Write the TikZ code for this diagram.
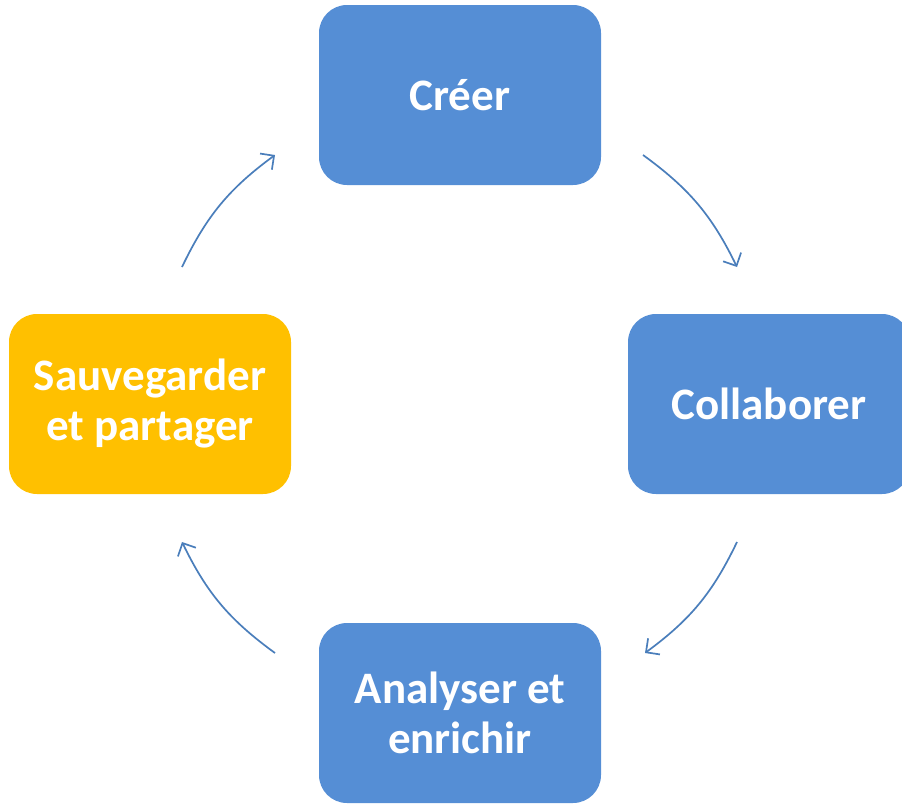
\documentclass[tikz,border=0pt]{standalone}
\usepackage{fontspec}
\setmainfont{Carlito}
\usetikzlibrary{arrows.meta}
\definecolor{boxblue}{RGB}{85,142,213}
\definecolor{boxorange}{RGB}{255,192,0}
\definecolor{arrowblue}{RGB}{74,126,187}
\begin{document}
\begin{tikzpicture}[x=1pt,y=-1pt,
  stage/.style={rounded corners=28pt, minimum width=282pt, minimum height=180pt,
    text=white, font=\fontsize{45}{50}\selectfont\bfseries, align=center, inner sep=0pt},
  cyc/.style={draw=arrowblue, line width=1.7pt, -{Straight Barb[length=10pt,width=20pt,line width=1.7pt]}, bend left=14}]
\useasboundingbox (0,0) rectangle (902,803);
\clip (0,0) rectangle (902,803);
\node[stage, fill=boxblue] (creer) at (460,95) {Créer};
\node[stage, fill=boxblue] (collab) at (769,404) {Collaborer};
\node[stage, fill=boxblue] (analyse) at (460,713) {Analyser et\\enrichir};
\node[stage, fill=boxorange] (sauve) at (150,404) {Sauvegarder\\et partager};
\coordinate (a1s) at (643,155); \coordinate (a1e) at (737,267);
\coordinate (a2s) at (737,542); \coordinate (a2e) at (645,653);
\coordinate (a3s) at (275,653); \coordinate (a3e) at (182,542);
\coordinate (a4s) at (182,267); \coordinate (a4e) at (275,155);
\draw[cyc] (a1s) to (a1e);
\draw[cyc] (a2s) to (a2e);
\draw[cyc] (a3s) to (a3e);
\draw[cyc] (a4s) to (a4e);
\end{tikzpicture}
\end{document}
